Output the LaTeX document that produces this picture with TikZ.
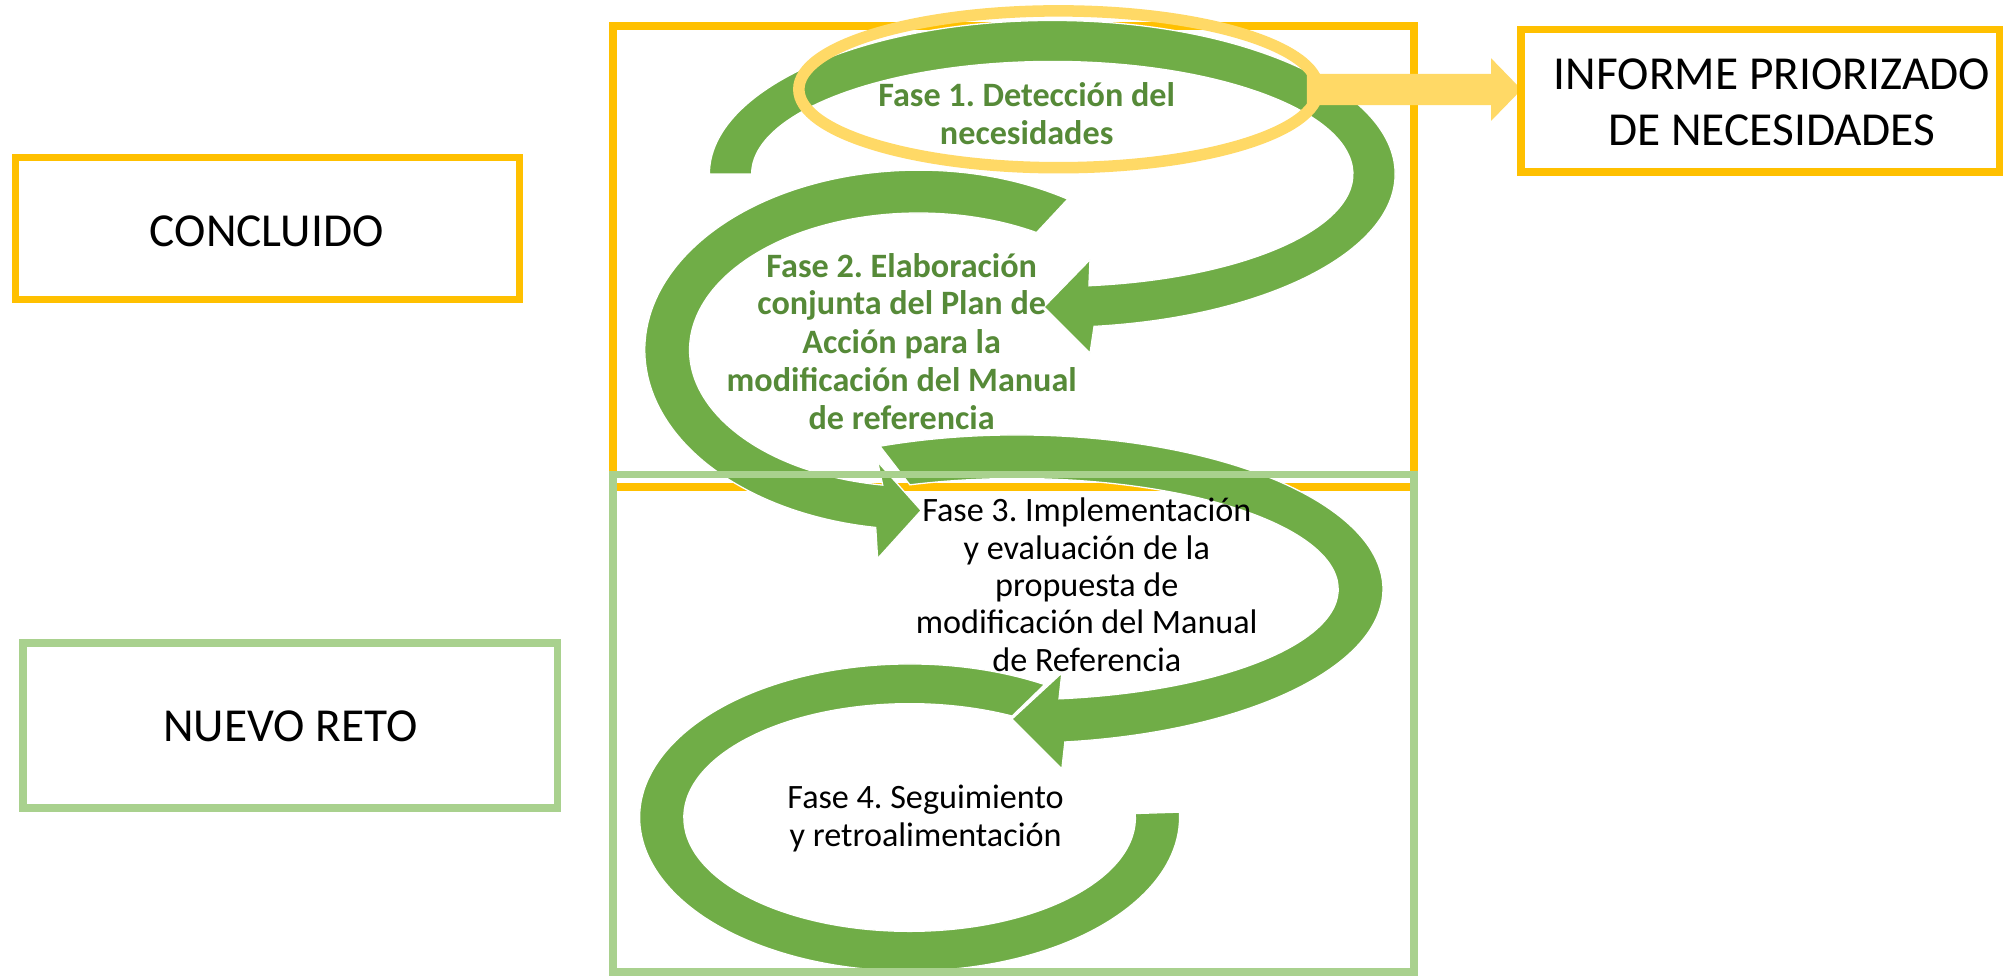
\documentclass[tikz,border=0pt]{standalone}
\usepackage{fontspec}
\setmainfont{Carlito}
\usetikzlibrary{calc,shapes.geometric}
\definecolor{cGold}{HTML}{FFC000}
\definecolor{cLGold}{HTML}{FFD966}
\definecolor{cLGreen}{HTML}{A9D18E}
\definecolor{cGreen}{HTML}{70AD47}
\definecolor{cDGreen}{HTML}{568A38}
\frenchspacing
\begin{document}
\begin{tikzpicture}[x=1pt,y=1pt,
  boxY/.style={draw=cGold, line width=6pt, inner sep=0pt},
  boxG/.style={draw=cLGreen, line width=6pt, inner sep=0pt},
  band/.style={fill=cGreen, draw=white, line width=1pt, line join=miter},
  lbl/.style={anchor=base, inner sep=0pt, font=\fontsize{37}{44}\selectfont},
  fasebold/.style={anchor=base, inner sep=0pt, font=\fontsize{26.7}{29.4}\selectfont\bfseries, text=cDGreen},
  fasereg/.style={anchor=base, inner sep=0pt, font=\fontsize{26.7}{29.4}\selectfont, text=black},
]
\useasboundingbox (0,0) rectangle (1568,-763);
\fill[white] (0,0) rectangle (1568,-763);

% big yellow frame
\node[boxY, minimum width=626.2pt, minimum height=360.1pt] (frameY) at (792.1,-200.45) {};

% arrow 4
\begin{scope}[shift={(711,-639)}]
\path[band] (60:211 and 120) arc[start angle=60, end angle=362, x radius=211, y radius=120]
  -- (362:176.5 and 89) arc[start angle=362, end angle=63, x radius=176.5, y radius=89] -- cycle;
\end{scope}
% arrow 3
\begin{scope}[shift={(795,-460.5)}]
\path[band] (112:286 and 120.5) arc[start angle=112, end angle=-82.5, x radius=286, y radius=120.5]
  -- (35,-140.5) -- (-4,-101.5) -- (35,-65.5)
  -- (-82.5:251 and 86.5) arc[start angle=-82.5, end angle=109.5, x radius=251, y radius=86.5] -- cycle;
\end{scope}
% arrow 2
\begin{scope}[shift={(718,-273.5)}]
\path[band] (57:214 and 140.5) arc[start angle=57, end angle=261, x radius=214, y radius=140.5]
  -- (-32,-163) -- (2,-125.5) -- (-32,-87.5)
  -- (261:179 and 107) arc[start angle=261, end angle=59, x radius=179, y radius=107] -- cycle;
\end{scope}
% arrow 1
\begin{scope}[shift={(822.5,-136)}]
\path[band] (180:268 and 120) arc[start angle=180, end angle=-83, x radius=268, y radius=120]
  -- (29.5,-140) -- (-6.5,-104) -- (29.5,-67)
  -- (-83:235 and 88) arc[start angle=-83, end angle=180, x radius=235, y radius=88] -- cycle;
\end{scope}

% green frame
\node[boxG, minimum width=626.2pt, minimum height=389.2pt] (frameG) at (792.1,-565.4) {};

% highlight ellipse
\node[ellipse, draw=cLGold, line width=9pt, minimum width=406pt, minimum height=122.6pt, inner sep=0pt] (ell) at (827.4,-69.8) {};

% yellow block arrow
\coordinate (ya) at (1021.5,-70);
\coordinate (yb) at (1189.3,-70);
\fill[cLGold] ($(ya)+(0,12.2)$) -- ($(yb)+(-23.7,12.2)$) -- ($(yb)+(-23.7,24.4)$) -- (yb)
  -- ($(yb)+(-23.7,-24.4)$) -- ($(yb)+(-23.7,-12.2)$) -- ($(ya)+(0,-12.2)$) -- cycle;

% side boxes
\node[boxY, minimum width=374pt, minimum height=111.5pt] (inf) at (1376,-78.75) {};
\node[boxY, minimum width=394pt, minimum height=111pt] (concl) at (209,-178.5) {};
\node[boxG, minimum width=417.8pt, minimum height=129.2pt] (nuevo) at (226.9,-567.1) {};

% side texts
\node[lbl] (tconcl) at (208.5,-192.4) {CONCLUIDO};
\node[lbl] (tnuevo) at (227,-579.7) {NUEVO RETO};
\node[lbl] (tinfa) at (1385,-69.8) {INFORME PRIORIZADO};
\node[lbl] (tinfb) at (1385,-113.9) {DE NECESIDADES};

% phase texts
\node[fasebold] (f1a) at (802.5,-83.4) {Fase 1. Detección del};
\node[fasebold] (f1b) at (802.5,-112.8) {necesidades};

\node[fasebold] (f2a) at (704.8,-216.8) {Fase 2. Elaboración};
\node[fasebold] (f2b) at (704.8,-246.2) {conjunta del Plan de};
\node[fasebold] (f2c) at (704.8,-276.2) {Acción para la};
\node[fasebold] (f2d) at (704.8,-306.2) {modificación del Manual};
\node[fasebold] (f2e) at (704.8,-335.6) {de referencia};

\node[fasereg] (f3a) at (849.5,-408) {Fase 3. Implementación};
\node[fasereg] (f3b) at (849.5,-437.5) {y evaluación de la};
\node[fasereg] (f3c) at (849.5,-466.5) {propuesta de};
\node[fasereg] (f3d) at (849.5,-495.5) {modificación del Manual};
\node[fasereg] (f3e) at (849.5,-524.6) {de Referencia};

\node[fasereg] (f4a) at (723.5,-632) {Fase 4. Seguimiento};
\node[fasereg] (f4b) at (723.5,-662) {y retroalimentación};
\end{tikzpicture}
\end{document}
